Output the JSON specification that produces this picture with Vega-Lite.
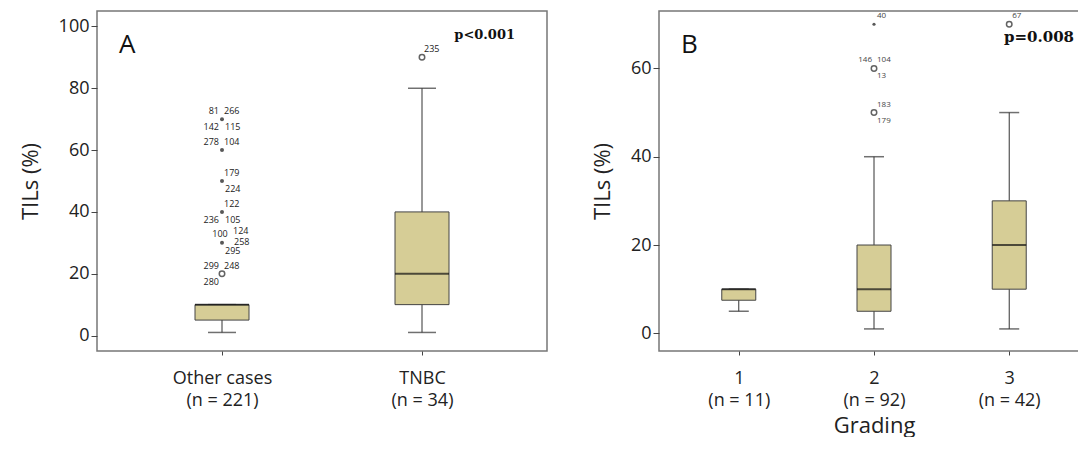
{
  "$schema": "https://vega.github.io/schema/vega-lite/v6.json",
  "padding": {"left": 18, "top": 10, "right": 0, "bottom": 0},
  "spacing": 42,
  "config": {
    "view": {"stroke": "#777", "strokeWidth": 1.5},
    "font": "Open Sans",
    "axis": {"labelColor": "#222", "titleColor": "#222", "domain": false, "tickColor": "#444", "labelFontSize": 18, "titleFontSize": 22, "titleFontWeight": "normal"}
  },
  "datasets": {
    "boxA": [
      {"group": "Other cases", "n": "(n = 221)", "min": 1, "q1": 5, "median": 10, "q3": 10, "max": 10},
      {"group": "TNBC", "n": "(n = 34)", "min": 1, "q1": 10, "median": 20, "q3": 40, "max": 80}
    ],
    "outA": [
      {"group": "Other cases", "value": 20, "kind": "outlier"},
      {"group": "Other cases", "value": 30, "kind": "extreme"},
      {"group": "Other cases", "value": 40, "kind": "extreme"},
      {"group": "Other cases", "value": 50, "kind": "extreme"},
      {"group": "Other cases", "value": 60, "kind": "extreme"},
      {"group": "Other cases", "value": 70, "kind": "extreme"},
      {"group": "TNBC", "value": 90, "kind": "outlier"}
    ],
    "labA": [
      {"group": "Other cases", "value": 70, "place": "ul", "id": "81"},
      {"group": "Other cases", "value": 70, "place": "ur", "id": "266"},
      {"group": "Other cases", "value": 70, "place": "ll", "id": "142"},
      {"group": "Other cases", "value": 70, "place": "lr", "id": "115"},
      {"group": "Other cases", "value": 60, "place": "ul", "id": "278"},
      {"group": "Other cases", "value": 60, "place": "ur", "id": "104"},
      {"group": "Other cases", "value": 50, "place": "ur", "id": "179"},
      {"group": "Other cases", "value": 50, "place": "lr", "id": "224"},
      {"group": "Other cases", "value": 40, "place": "ur", "id": "122"},
      {"group": "Other cases", "value": 40, "place": "ll", "id": "236"},
      {"group": "Other cases", "value": 40, "place": "lr", "id": "105"},
      {"group": "Other cases", "value": 30, "place": "uu", "id": "100"},
      {"group": "Other cases", "value": 30, "place": "uur", "id": "124"},
      {"group": "Other cases", "value": 30, "place": "rr", "id": "258"},
      {"group": "Other cases", "value": 30, "place": "lr", "id": "295"},
      {"group": "Other cases", "value": 20, "place": "ul", "id": "299"},
      {"group": "Other cases", "value": 20, "place": "ur", "id": "248"},
      {"group": "Other cases", "value": 20, "place": "ll", "id": "280"},
      {"group": "TNBC", "value": 90, "place": "ur", "id": "235"}
    ],
    "boxB": [
      {"group": "1", "n": "(n = 11)", "min": 5, "q1": 7.5, "median": 10, "q3": 10, "max": 10},
      {"group": "2", "n": "(n = 92)", "min": 1, "q1": 5, "median": 10, "q3": 20, "max": 40},
      {"group": "3", "n": "(n = 42)", "min": 1, "q1": 10, "median": 20, "q3": 30, "max": 50}
    ],
    "outB": [
      {"group": "2", "value": 50, "kind": "outlier"},
      {"group": "2", "value": 60, "kind": "outlier"},
      {"group": "2", "value": 70, "kind": "extreme"},
      {"group": "3", "value": 70, "kind": "outlier"}
    ],
    "labB": [
      {"group": "2", "value": 70, "place": "ur", "id": "40"},
      {"group": "2", "value": 60, "place": "ul", "id": "146"},
      {"group": "2", "value": 60, "place": "ur", "id": "104"},
      {"group": "2", "value": 60, "place": "lr", "id": "13"},
      {"group": "2", "value": 50, "place": "ur", "id": "183"},
      {"group": "2", "value": 50, "place": "lr", "id": "179"},
      {"group": "3", "value": 70, "place": "ur", "id": "67"}
    ]
  },
  "hconcat": [
    {
      "width": 450,
      "height": 340,
      "encoding": {
        "x": {"field": "group", "type": "nominal", "scale": {"type": "point", "padding": 0.625}, "sort": null,
          "axis": {"title": null, "labelAngle": 0, "labelPadding": 14, "tickSize": 4, "labelExpr": "[datum.label, datum.label == 'TNBC' ? '(n = 34)' : '(n = 221)']", "labelLineHeight": 22}}
      },
      "layer": [
        {"data": {"name": "boxA"}, "mark": {"type": "rule", "color": "#333"},
          "encoding": {"y": {"field": "min", "type": "quantitative", "scale": {"domain": [-5, 105], "nice": false}, "axis": {"title": "TILs (%)", "values": [0, 20, 40, 60, 80, 100], "grid": false, "tickSize": 6, "titlePadding": 16}}, "y2": {"field": "max"}}},
        {"data": {"name": "boxA"}, "mark": {"type": "tick", "color": "#333", "size": 28, "thickness": 1.5}, "encoding": {"y": {"field": "min", "type": "quantitative"}}},
        {"data": {"name": "boxA"}, "mark": {"type": "tick", "color": "#333", "size": 28, "thickness": 1.5}, "encoding": {"y": {"field": "max", "type": "quantitative"}}},
        {"data": {"name": "boxA"}, "mark": {"type": "bar", "size": 54, "fill": "#d6cd96", "stroke": "#444", "strokeWidth": 1}, "encoding": {"y": {"field": "q1", "type": "quantitative"}, "y2": {"field": "q3"}}},
        {"data": {"name": "boxA"}, "mark": {"type": "tick", "color": "#111", "size": 54, "thickness": 2}, "encoding": {"y": {"field": "median", "type": "quantitative"}}},
        {"data": {"name": "outA"}, "transform": [{"filter": "datum.kind == 'outlier'"}], "mark": {"type": "point", "shape": "circle", "color": "#222", "size": 30, "strokeWidth": 1.5}, "encoding": {"y": {"field": "value", "type": "quantitative"}}},
        {"data": {"name": "outA"}, "transform": [{"filter": "datum.kind == 'extreme'"}], "mark": {"type": "point", "shape": "circle", "filled": true, "color": "#111", "size": 16}, "encoding": {"y": {"field": "value", "type": "quantitative"}}},
        {"data": {"name": "labA"}, "transform": [{"filter": "datum.place == 'ur'"}], "mark": {"type": "text", "fontSize": 9, "align": "left", "dx": 2, "dy": -8, "color": "#222"}, "encoding": {"y": {"field": "value", "type": "quantitative"}, "text": {"field": "id"}}},
        {"data": {"name": "labA"}, "transform": [{"filter": "datum.place == 'ul'"}], "mark": {"type": "text", "fontSize": 9, "align": "right", "dx": -3, "dy": -8, "color": "#222"}, "encoding": {"y": {"field": "value", "type": "quantitative"}, "text": {"field": "id"}}},
        {"data": {"name": "labA"}, "transform": [{"filter": "datum.place == 'lr'"}], "mark": {"type": "text", "fontSize": 9, "align": "left", "dx": 3, "dy": 8, "color": "#222"}, "encoding": {"y": {"field": "value", "type": "quantitative"}, "text": {"field": "id"}}},
        {"data": {"name": "labA"}, "transform": [{"filter": "datum.place == 'll'"}], "mark": {"type": "text", "fontSize": 9, "align": "right", "dx": -3, "dy": 8, "color": "#222"}, "encoding": {"y": {"field": "value", "type": "quantitative"}, "text": {"field": "id"}}},
        {"data": {"name": "labA"}, "transform": [{"filter": "datum.place == 'uu'"}], "mark": {"type": "text", "fontSize": 9, "align": "center", "dx": -2, "dy": -9, "color": "#222"}, "encoding": {"y": {"field": "value", "type": "quantitative"}, "text": {"field": "id"}}},
        {"data": {"name": "labA"}, "transform": [{"filter": "datum.place == 'uur'"}], "mark": {"type": "text", "fontSize": 9, "align": "left", "dx": 11, "dy": -12, "color": "#222"}, "encoding": {"y": {"field": "value", "type": "quantitative"}, "text": {"field": "id"}}},
        {"data": {"name": "labA"}, "transform": [{"filter": "datum.place == 'rr'"}], "mark": {"type": "text", "fontSize": 9, "align": "left", "dx": 12, "dy": -1, "color": "#222"}, "encoding": {"y": {"field": "value", "type": "quantitative"}, "text": {"field": "id"}}},
        {"data": {"values": [{"t": "A"}]}, "mark": {"type": "text", "fontSize": 26, "align": "left", "baseline": "middle", "color": "#111"}, "encoding": {"x": {"value": 22}, "y": {"value": 34}, "text": {"field": "t"}}},
        {"data": {"values": [{"t": "p<0.001"}]}, "mark": {"type": "text", "fontSize": 13, "fontWeight": "bold", "font": "DejaVu Serif", "align": "right", "baseline": "middle", "color": "#111"}, "encoding": {"x": {"value": 418}, "y": {"value": 24}, "text": {"field": "t"}}}
      ]
    },
    {
      "width": 430,
      "height": 340,
      "encoding": {
        "x": {"field": "group", "type": "nominal", "scale": {"type": "point", "padding": 0.59}, "sort": null,
          "axis": {"title": "Grading", "titlePadding": 6, "labelAngle": 0, "labelPadding": 14, "tickSize": 4, "labelExpr": "[datum.label, datum.label == '1' ? '(n = 11)' : datum.label == '2' ? '(n = 92)' : '(n = 42)']", "labelLineHeight": 22}}
      },
      "layer": [
        {"data": {"name": "boxB"}, "mark": {"type": "rule", "color": "#333"},
          "encoding": {"y": {"field": "min", "type": "quantitative", "scale": {"domain": [-4, 73], "nice": false}, "axis": {"title": "TILs (%)", "values": [0, 20, 40, 60], "grid": false, "tickSize": 6, "titlePadding": 16}}, "y2": {"field": "max"}}},
        {"data": {"name": "boxB"}, "mark": {"type": "tick", "color": "#333", "size": 20, "thickness": 1.5}, "encoding": {"y": {"field": "min", "type": "quantitative"}}},
        {"data": {"name": "boxB"}, "mark": {"type": "tick", "color": "#333", "size": 20, "thickness": 1.5}, "encoding": {"y": {"field": "max", "type": "quantitative"}}},
        {"data": {"name": "boxB"}, "mark": {"type": "bar", "size": 34, "fill": "#d6cd96", "stroke": "#444", "strokeWidth": 1}, "encoding": {"y": {"field": "q1", "type": "quantitative"}, "y2": {"field": "q3"}}},
        {"data": {"name": "boxB"}, "mark": {"type": "tick", "color": "#111", "size": 34, "thickness": 2}, "encoding": {"y": {"field": "median", "type": "quantitative"}}},
        {"data": {"name": "outB"}, "transform": [{"filter": "datum.kind == 'outlier'"}], "mark": {"type": "point", "shape": "circle", "color": "#222", "size": 30, "strokeWidth": 1.5}, "encoding": {"y": {"field": "value", "type": "quantitative"}}},
        {"data": {"name": "outB"}, "transform": [{"filter": "datum.kind == 'extreme'"}], "mark": {"type": "point", "shape": "circle", "filled": true, "color": "#111", "size": 10}, "encoding": {"y": {"field": "value", "type": "quantitative"}}},
        {"data": {"name": "labB"}, "transform": [{"filter": "datum.place == 'ur'"}], "mark": {"type": "text", "fontSize": 8, "align": "left", "dx": 3, "dy": -8, "color": "#444"}, "encoding": {"y": {"field": "value", "type": "quantitative"}, "text": {"field": "id"}}},
        {"data": {"name": "labB"}, "transform": [{"filter": "datum.place == 'ul'"}], "mark": {"type": "text", "fontSize": 8, "align": "right", "dx": -2, "dy": -8, "color": "#444"}, "encoding": {"y": {"field": "value", "type": "quantitative"}, "text": {"field": "id"}}},
        {"data": {"name": "labB"}, "transform": [{"filter": "datum.place == 'lr'"}], "mark": {"type": "text", "fontSize": 8, "align": "left", "dx": 3, "dy": 8, "color": "#444"}, "encoding": {"y": {"field": "value", "type": "quantitative"}, "text": {"field": "id"}}},
        {"data": {"values": [{"t": "B"}]}, "mark": {"type": "text", "fontSize": 26, "align": "left", "baseline": "middle", "color": "#111"}, "encoding": {"x": {"value": 22}, "y": {"value": 34}, "text": {"field": "t"}}},
        {"data": {"values": [{"t": "p=0.008"}]}, "mark": {"type": "text", "fontSize": 15, "fontWeight": "bold", "font": "DejaVu Serif", "align": "left", "baseline": "middle", "color": "#111"}, "encoding": {"x": {"value": 345}, "y": {"value": 26}, "text": {"field": "t"}}}
      ]
    }
  ]
}
